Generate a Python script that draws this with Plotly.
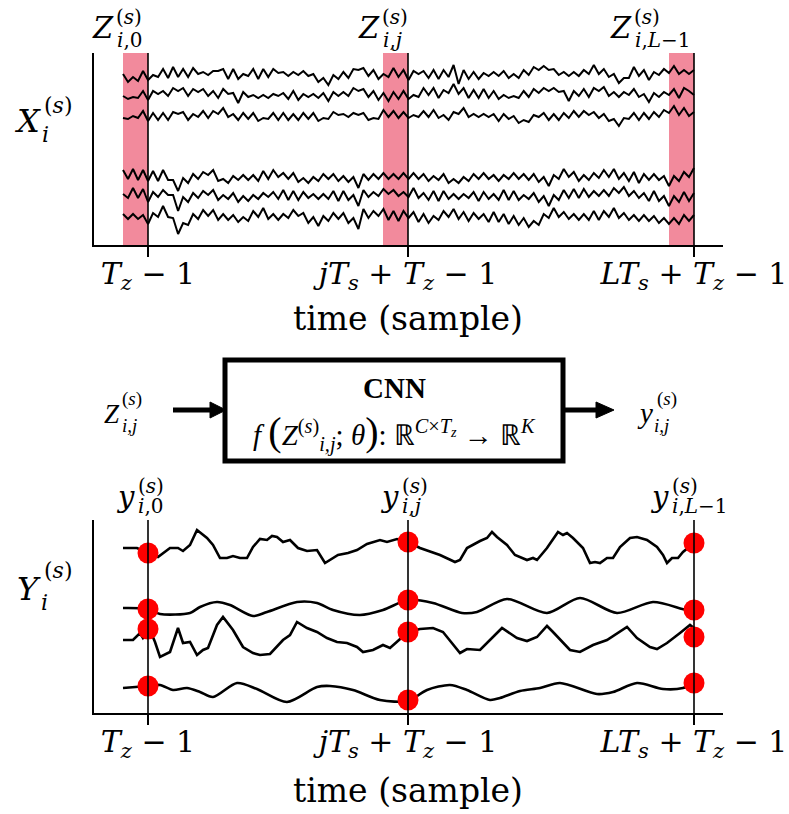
import numpy as np
import plotly.graph_objects as go

W, H = 789, 814
SERIF = "DejaVu Serif"
MATH = "Liberation Serif"

# ---------------- data ----------------
T_Z = 26                              # window length (samples)
WINDOW_STARTS = [0, 260, 546]         # j = 0, j, L-1
WINDOW_ENDS = [s + T_Z - 1 for s in WINDOW_STARTS]
TICK_TEXT = [
    "<i>T</i><sub><i>z</i></sub> − 1",
    "<i>jT</i><sub><i>s</i></sub> + <i>T</i><sub><i>z</i></sub> − 1",
    "<i>LT</i><sub><i>s</i></sub> + <i>T</i><sub><i>z</i></sub> − 1",
]

# raw multichannel signal X (6 channels, amplitude around each channel baseline)
X_CH1 = [3,-5,0,-4,6,-3,2,0,8,-1, 10,0,8,0,9,3,5,2,6,6, 8,-2,8,-2,3,1,8,-2,8,0,
         8,4,5,1,5,2,6,1,3,-5, -1,-8,2,-2,5,-1,8,7,9,1, 7,-2,3,0,9,0,7,-3,6,3,
         6,-1,7,-2,7,0,12,-7,7,-2, 5,-2,4,1,5,1,6,-1,3,-1, 7,2,10,7,11,7,8,2,5,1,
         5,1,7,3,12,3,8,0,3,-6, -1,-1,10,1,7,-3,5,2,8,4, 11,3,7,3,7]
X_CH2 = [1,-2,0,-1,6,-3,6,3,6,1, 9,6,9,1,8,5,8,1,6,-1, 8,3,4,-6,5,0,2,-1,2,-1,
         3,1,4,-2,6,-3,3,0,3,-1, 4,-4,5,1,5,1,9,6,8,0, 6,-3,4,-4,5,-2,6,-2,2,0,
         9,2,9,-1,7,4,13,3,9,-1, 7,-1,8,-1,6,-2,2,-1,1,-1, 6,0,8,4,9,6,9,5,6,-4,
         6,1,8,0,9,6,10,1,5,0, 5,2,8,0,3,-5,4,0,5,2, 8,-1,9,6,2]
X_CH3 = [-1,-2,1,-1,6,-4,4,-3,4,-3, 5,3,5,-3,3,0,6,-1,6,3, 9,0,3,-3,4,-2,4,-4,-1,-2,
         4,-3,4,-3,3,-3,4,-2,4,-4, -1,-2,5,2,3,0,4,2,4,-3, -1,-2,7,0,6,-1,5,-1,2,0,
         6,0,7,-1,2,-3,5,3,9,0, 3,0,3,0,3,-4,3,-2,1,-6, -3,-5,2,0,4,-3,3,-3,4,-1,
         6,0,6,2,5,-1,3,-4,-2,-9, -1,-2,4,-3,4,-2,5,0,7,4, 11,2,9,1,5]
X_CH4 = [7,-2,8,-3,7,-4,6,-4,7,-3, -3,-14,-1,-6,3,-2,5,2,7,-4, -2,-6,1,-3,2,-3,2,-4,6,-2,
         7,0,4,-2,4,-5,-1,-6,0,-4, 3,-2,3,-4,1,-5,0,-11,3,-3, 3,-2,4,-2,3,-2,4,-2,4,-2,
         3,-4,1,-3,3,-6,-2,-6,0,-4, 3,-2,4,-2,2,-4,2,-2,4,-2, 3,-3,3,-5,0,-9,2,-2,8,0,
         5,-4,2,-3,4,-1,7,0,8,-2, 4,-4,5,-6,3,-3,3,-3,1,-9, 1,-4,5,0,9]
X_CH5 = [1,-3,7,-3,6,-7,3,-2,5,0, 0,-16,-2,-7,2,-3,4,0,5,-5, 0,-4,2,-7,-1,-6,0,-4,2,-2,
         3,-4,5,-5,4,-5,3,-3,1,-4, 1,-4,4,-6,4,-5,0,-11,5,-2, 3,-1,6,1,5,-1,3,-2,7,-3,
         2,-5,4,-6,4,-4,1,-4,1,-3, 3,-6,3,-4,1,-5,5,-5,4,-5, 0,-4,2,-7,-1,-11,0,-5,5,-3,
         6,-3,6,-2,4,-1,5,-1,7,2, 8,-1,4,-3,2,-6,4,-6,-1,-11, -1,-7,3,-6,2]
X_CH6 = [3,-2,3,-2,2,-7,4,0,11,0, -1,-17,-6,-8,3,-2,7,1,7,-3, 3,-3,2,-5,0,-4,6,0,9,-2,
         3,-3,3,-1,7,1,4,-6,0,-9, 1,-4,4,-2,4,-6,-1,-12,8,-1, 6,1,8,-3,6,-4,6,-1,5,-5,
         3,-6,1,-3,6,0,8,-2,5,-4, 4,-2,3,-5,5,-5,3,-7,1,-8, -1,-10,-4,-8,3,-1,9,0,5,-2,
         3,-3,3,-3,6,-3,6,0,9,-1, 4,-3,2,-4,2,-4,1,-6,-1,-7, -1,-7,2,-4,2]
X_CHANNELS = [X_CH1, X_CH2, X_CH3, X_CH4, X_CH5, X_CH6]
X_BASELINES = [168, 148, 128, 68, 50, 28]

# CNN output time series Y (4 outputs)
YA_T = [0,14,25,35,47,55,60,67,74,84,90,97,104,110,117,124,130,137,144,149,
        154,160,167,175,184,194,202,207,215,225,234,244,257,264,274,285,297,317,332,337,
        344,357,364,369,374,384,392,404,410,414,424,435,440,444,450,460,467,472,477,484,
        490,497,507,514,524,534,540,544,549,555,560,571]
YA_V = [165,165,160,156,165,165,162,168,183,175,168,155,155,157,155,155,166,174,173,177,
        176,171,173,165,162,163,150,153,158,160,163,169,173,171,174,171,165,158,151,153,
        165,172,175,181,176,168,158,153,155,153,165,181,178,180,175,165,150,151,150,155,
        155,166,175,176,173,166,158,150,155,155,161,170]
YB_T = [0,25,37,67,77,94,107,130,144,174,194,210,237,260,285,310,339,354,384,424,457,494,530,564,571]
YB_V = [105,104,99,100,106,111,108,97,101,111,110,103,98,103,113,110,100,101,114,100,115,100,111,103,103]
YC_T = [0,10,17,20,27,32,37,47,55,60,67,74,80,85,94,100,110,120,130,137,
        147,160,167,174,184,194,204,214,224,234,240,250,260,267,285,297,310,320,337,344,
        357,367,379,394,404,414,424,430,447,457,470,484,497,504,514,527,534,544,557,567,571]
YC_V = [73,73,80,75,83,71,56,61,85,70,71,58,63,65,88,96,83,66,60,58,
        59,73,78,91,85,81,75,71,70,66,61,63,68,65,81,84,85,81,60,64,
        63,73,85,75,72,76,87,81,63,61,68,73,81,86,75,66,64,70,80,88,85]
YD_T = [0,25,37,50,64,77,90,114,134,164,194,207,230,257,285,304,327,344,367,377,397,417,437,474,490,514,540,560,571]
YD_V = [25,27,28,23,25,21,16,30,24,11,26,27,23,13,12,23,28,23,13,15,22,25,30,19,21,30,24,25,30]
Y_SERIES = [(YA_T, YA_V, "linear"), (YB_T, YB_V, "spline"), (YC_T, YC_V, "linear"), (YD_T, YD_V, "spline")]
# CNN outputs y_{i,j} at window ends
Y_OUT = [[160, 171, 170], [104, 113, 103], [84, 81, 76], [27, 13, 30]]

# ---------------- helpers (pixel -> paper) ----------------
def PX(x):
    return x / W

def PY(y):
    return 1 - y / H

X0_PX, X1_PX = 94, 723
T_MIN, T_MAX = -29, 600
def t2px(t):
    return X0_PX + (t - T_MIN) / (T_MAX - T_MIN) * (X1_PX - X0_PX)

fig = go.Figure()

for vals, base in zip(X_CHANNELS, X_BASELINES):
    t = np.linspace(0, WINDOW_ENDS[-1], len(vals))
    fig.add_trace(go.Scatter(x=t, y=np.array(vals) + base, mode="lines",
                             line=dict(color="black", width=2.0),
                             xaxis="x", yaxis="y", hoverinfo="skip", showlegend=False))

for (tt, vv, shp) in Y_SERIES:
    fig.add_trace(go.Scatter(x=tt, y=vv, mode="lines",
                             line=dict(color="black", width=2.6, shape=shp, smoothing=0.8),
                             xaxis="x2", yaxis="y2", hoverinfo="skip", showlegend=False))
for outs in Y_OUT:
    fig.add_trace(go.Scatter(x=WINDOW_ENDS, y=outs, mode="markers",
                             marker=dict(color="#FF0000", size=21, line=dict(width=0)),
                             xaxis="x2", yaxis="y2", hoverinfo="skip", showlegend=False,
                             cliponaxis=False))

shapes = []
for s, e in zip(WINDOW_STARTS, WINDOW_ENDS):
    shapes.append(dict(type="rect", xref="x", yref="y domain", x0=s, x1=e, y0=0, y1=1,
                       fillcolor="#F28A9C", line=dict(width=0), layer="below"))
    for ya in ("y domain", "y2 domain"):
        shapes.append(dict(type="line", xref="x" if ya == "y domain" else "x2", yref=ya,
                           x0=e, x1=e, y0=0, y1=1, line=dict(color="black", width=1.6), layer="above"))

# CNN box and arrows
shapes.append(dict(type="rect", xref="paper", yref="paper", x0=PX(225), x1=PX(563),
                   y0=PY(461), y1=PY(360), line=dict(color="black", width=5)))
for (xa, xb, xt) in [(173, 212, 226), (563, 598, 614)]:
    shapes.append(dict(type="line", xref="paper", yref="paper", x0=PX(xa), x1=PX(xb),
                       y0=PY(410), y1=PY(410), line=dict(color="black", width=5)))
    shapes.append(dict(type="path", xref="paper", yref="paper",
                       path=f"M {PX(xb-2)},{PY(402)} L {PX(xt)},{PY(410)} L {PX(xb-2)},{PY(418)} Z",
                       fillcolor="black", line=dict(color="black", width=1)))

annotations = []
def label(text, x, baseline, size, xanchor="center", font=SERIF, bold=False):
    yc = baseline - 0.345 * size
    annotations.append(dict(text=text, xref="paper", yref="paper", x=PX(x), y=PY(yc),
                            xanchor=xanchor, yanchor="middle", showarrow=False,
                            font=dict(family=font, size=size, color="black",
                                      weight="bold" if bold else "normal"),
                            borderpad=0))

# X_i^(s) and Y_i^(s)
label("<i>X</i>", 42, 132, 32, "right")
label("(<i>s</i>)", 43, 113, 22, "left")
label("<i>i</i>", 41, 142, 22, "left")
label("<i>Y</i>", 42, 600, 32, "right")
label("(<i>s</i>)", 43, 578, 22, "left")
label("<i>i</i>", 40, 610, 22, "left")

# window labels Z and y
Z_SUBS = ["<i>i</i>,0", "<i>i</i>,<i>j</i>", "<i>i</i>,<i>L</i>−1"]
Z_SHIFT = [-33, -27, -61]
Y_SHIFT = [-12, -8, -24]
for e, sub, zs, ys in zip(WINDOW_ENDS, Z_SUBS, Z_SHIFT, Y_SHIFT):
    xl = t2px(e) + zs
    label("<i>Z</i>", xl, 38, 29, "right")
    label("(<i>s</i>)", xl, 24, 20, "left")
    label(sub, xl + 1, 47, 20, "left")
    xl = t2px(e) + ys
    label("<i>y</i>", xl, 507, 29, "right")
    label("(<i>s</i>)", xl + 1, 493, 20, "left")
    label(sub, xl + 1, 513, 20, "left")

# axis titles
label("time (sample)", t2px(WINDOW_ENDS[1]), 330, 33)
label("time (sample)", t2px(WINDOW_ENDS[1]), 802, 33)

# CNN block
label("CNN", 394, 398, 29, font=MATH, bold=True)
label("<i>f</i> <span style='font-size:40px'>(</span><i>Z</i><sup>(<i>s</i>)</sup><sub><i>i,j</i></sub>; <i>θ</i>"
      "<span style='font-size:40px'>)</span>: ℝ<sup><i>C</i>×<i>T</i><sub><i>z</i></sub></sup> → ℝ<sup><i>K</i></sup>",
      394, 443, 29, font=MATH)
label("<i>Z</i>", 121, 423, 27, "right", font=MATH)
label("(<i>s</i>)", 121, 406, 19, "left", font=MATH)
label("<i>i,j</i>", 121, 432, 19, "left", font=MATH)
label("<i>y</i>", 654, 423, 29, "right", font=MATH)
label("(<i>s</i>)", 656, 406, 19, "left", font=MATH)
label("<i>i,j</i>", 653, 432, 19, "left", font=MATH)

xaxis_common = dict(domain=[PX(X0_PX), PX(X1_PX)], range=[T_MIN, T_MAX], showline=True,
                    linecolor="black", linewidth=2, ticks="outside", ticklen=10, tickwidth=1.6,
                    tickcolor="black", tickvals=WINDOW_ENDS, ticktext=TICK_TEXT,
                    tickfont=dict(family=SERIF, size=30, color="black"), automargin=False,
                    ticklabelstandoff=-9,
                    showgrid=False, zeroline=False, fixedrange=True)
yaxis_common = dict(showline=True, linecolor="black", linewidth=2, showticklabels=False,
                    ticks="", showgrid=False, zeroline=False, fixedrange=True, automargin=False)

fig.update_layout(
    width=W, height=H, margin=dict(l=0, r=0, t=0, b=0, autoexpand=False),
    paper_bgcolor="white", plot_bgcolor="white", showlegend=False,
    xaxis=dict(**xaxis_common, anchor="y"),
    yaxis=dict(**yaxis_common, domain=[PY(245), PY(53)], range=[0, 192], anchor="x"),
    xaxis2=dict(**xaxis_common, anchor="y2"),
    yaxis2=dict(**yaxis_common, domain=[PY(713), PY(520)], range=[0, 193], anchor="x2"),
    shapes=shapes, annotations=annotations,
)

fig.write_html("out.html", config={"responsive": False, "displayModeBar": False},
               post_script="document.body.style.margin='0px';document.body.style.overflow='hidden';")
